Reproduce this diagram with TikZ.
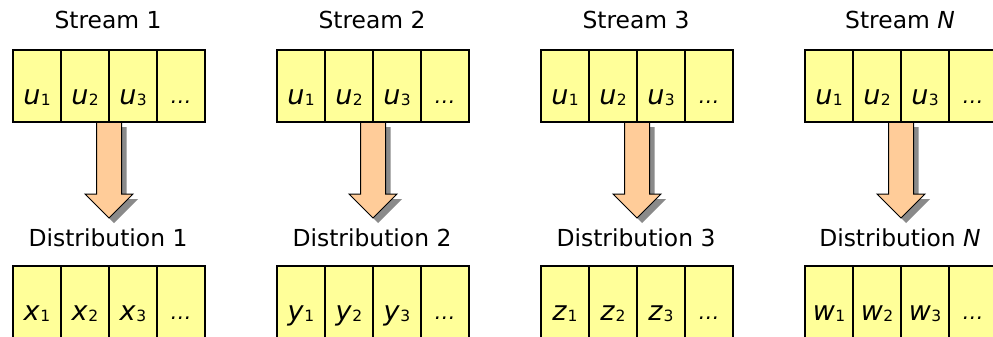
\documentclass[tikz,border=0pt]{standalone}
\usepackage{fontspec}
\setmainfont{DejaVu Sans}
\usetikzlibrary{calc,backgrounds}
\definecolor{cellyellow}{HTML}{FFFF99}
\definecolor{peach}{HTML}{FFCC99}
\definecolor{shadowgray}{HTML}{8A8A8A}
\tikzset{
  cell/.style={draw=black, line width=1.5pt, fill=cellyellow, minimum width=48pt, minimum height=72pt, inner sep=0pt, outer sep=0pt},
  celltext/.style={anchor=base, inner sep=0pt, font=\fontsize{27}{27}\selectfont},
  dotstext/.style={anchor=base, inner sep=0pt, font=\fontsize{21}{21}\selectfont},
  titletext/.style={anchor=base, inner sep=0pt, font=\fontsize{23.4}{26}\selectfont},
  blockarrow/.style={draw=black, line width=1pt, fill=peach, line join=miter},
  arrowshadow/.style={fill=shadowgray, draw=none},
}
\newcommand{\cv}[2]{\textit{#1}\kern0.5pt\raisebox{-1.2pt}{\fontsize{15.5}{15.5}\selectfont #2}}
\begin{document}
\begin{tikzpicture}[x=1pt,y=-1pt]
\useasboundingbox (0,0) rectangle (993,337);
\clip (0,0) rectangle (993,337);
\foreach \i/\lab/\v in {1/1/x, 2/2/y, 3/3/z, 4/\textit{N}/w} {
  \pgfmathsetmacro\xo{13+264*(\i-1)}
  \foreach \j in {1,...,4} {
    \node[cell] (t\i-\j) at ({\xo+24+48*(\j-1)},86) {};
    \node[cell] (b\i-\j) at ({\xo+24+48*(\j-1)},302) {};
  }
  \foreach \j in {1,2,3} {
    \node[celltext] (tt\i-\j) at ($(t\i-\j.center)+(0,18.5)$) {\cv{u}{\j}};
    \node[celltext] (bt\i-\j) at ($(b\i-\j.center)+(0,18.5)$) {\cv{\v}{\j}};
  }
  \node[dotstext] (tt\i-4) at ($(t\i-4.center)+(0,17)$) {\textit{…}};
  \node[dotstext] (bt\i-4) at ($(b\i-4.center)+(0,17)$) {\textit{…}};
  \node[titletext] (st\i) at ($(t\i-2.north east)+(-1,-21)$) {Stream \lab};
  \node[titletext] (dt\i) at ($(b\i-2.north east)+(-1,-20)$) {Distribution \lab};
  \coordinate (ar\i) at (t\i-2.south east);
  \coordinate (sh\i) at ($(ar\i)+(5,5)$);
  \begin{pgfonlayer}{background}
    \path[arrowshadow] ($(sh\i)+(-12.5,0)$) -- ($(sh\i)+(-12.5,72)$) -- ($(sh\i)+(-24,72)$) -- ($(sh\i)+(0,96)$) -- ($(sh\i)+(24,72)$) -- ($(sh\i)+(12.5,72)$) -- ($(sh\i)+(12.5,0)$) -- cycle;
    \draw[blockarrow] ($(ar\i)+(-12.5,0)$) -- ($(ar\i)+(-12.5,72)$) -- ($(ar\i)+(-24,72)$) -- ($(ar\i)+(0,96)$) -- ($(ar\i)+(24,72)$) -- ($(ar\i)+(12.5,72)$) -- ($(ar\i)+(12.5,0)$) -- cycle;
  \end{pgfonlayer}
}
\end{tikzpicture}
\end{document}
